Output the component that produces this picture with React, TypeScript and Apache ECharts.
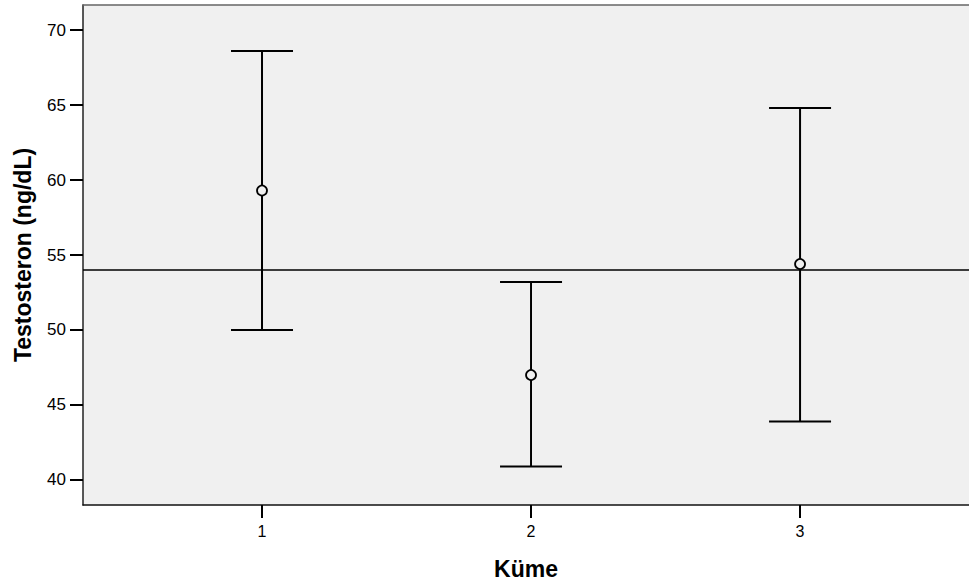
import React, { useEffect, useRef } from "react";
import * as echarts from "echarts";

const categories = [1, 2, 3];
const means = [59.3, 47.0, 54.4];
const lowerBounds = [50.0, 40.9, 43.9];
const upperBounds = [68.6, 53.2, 64.8];
const referenceValue = 54.0;
const yTicks = [40, 45, 50, 55, 60, 65, 70];
const xTicks = [1, 2, 3];

export default function App() {
  const ref = useRef<HTMLDivElement>(null);
  useEffect(() => {
    document.body.style.margin = "0";
    document.documentElement.style.overflow = "hidden";
    if (!ref.current) return;
    const chart = echarts.init(ref.current, null, { renderer: "svg" });
    const data = categories.map((c, i) => [c, lowerBounds[i], upperBounds[i], means[i]]);
    const font = "'Liberation Sans', Arial, sans-serif";
    chart.setOption({
      animation: false,
      backgroundColor: "#ffffff",
      grid: {
        left: 83,
        top: 5,
        right: 0,
        bottom: 77,
        containLabel: false,
        outerBoundsMode: "none",
        show: true,
        backgroundColor: "#f0f0f0",
        borderWidth: 0,
      },
      xAxis: [
        {
          type: "value",
          min: 0.3346,
          max: 3.628,
          name: "Küme",
          nameLocation: "middle",
          nameGap: 52,
          nameTextStyle: { fontFamily: font, fontSize: 23, fontWeight: "bold", color: "#000" },
          splitLine: { show: false },
          axisLine: { show: true, onZero: false, lineStyle: { color: "#111", width: 1.5 } },
          axisTick: { show: true, length: 13, customValues: xTicks, lineStyle: { color: "#000", width: 2 } },
          axisLabel: {
            customValues: xTicks,
            fontFamily: font,
            fontSize: 16,
            color: "#000",
            margin: 18,
          },
        },
        {
          type: "value",
          position: "top",
          min: 0.3346,
          max: 3.628,
          splitLine: { show: false },
          axisLine: { show: true, onZero: false, lineStyle: { color: "#666", width: 1.5 } },
          axisTick: { show: false },
          axisLabel: { show: false },
        },
      ],
      yAxis: {
        type: "value",
        min: 38.3333,
        max: 71.6667,
        name: "Testosteron (ng/dL)",
        nameLocation: "middle",
        nameGap: 49,
        nameTextStyle: { fontFamily: font, fontSize: 23, fontWeight: "bold", color: "#000" },
        splitLine: { show: false },
        axisLine: { show: true, onZero: false, lineStyle: { color: "#222", width: 1.5 } },
        axisTick: { show: true, length: 13, customValues: yTicks, lineStyle: { color: "#000", width: 2 } },
        axisLabel: {
          customValues: yTicks,
          fontFamily: font,
          fontSize: 17,
          color: "#000",
          margin: 17,
        },
      },
      series: [
        {
          type: "custom",
          xAxisIndex: 0,
          data,
          renderItem: (params: any, api: any) => {
            const x = api.value(0);
            const lo = api.coord([x, api.value(1)]);
            const hi = api.coord([x, api.value(2)]);
            const mid = api.coord([x, api.value(3)]);
            const half = 31;
            const style = { stroke: "#000", lineWidth: 2 };
            return {
              type: "group",
              children: [
                { type: "line", shape: { x1: lo[0], y1: lo[1], x2: hi[0], y2: hi[1] }, style },
                { type: "line", shape: { x1: hi[0] - half, y1: hi[1], x2: hi[0] + half, y2: hi[1] }, style },
                { type: "line", shape: { x1: lo[0] - half, y1: lo[1], x2: lo[0] + half, y2: lo[1] }, style },
                {
                  type: "circle",
                  z2: 10,
                  shape: { cx: mid[0], cy: mid[1], r: 5 },
                  style: { fill: "#f0f0f0", stroke: "#000", lineWidth: 1.8 },
                },
              ],
            };
          },
          markLine: {
            silent: true,
            symbol: "none",
            label: { show: false },
            lineStyle: { color: "#000", width: 1.5, type: "solid" },
            data: [{ yAxis: referenceValue }],
          },
          z: 5,
        },
      ],
    });
    return () => chart.dispose();
  }, []);
  return (
    <div
      ref={ref}
      style={{ position: "absolute", left: 0, top: 0, width: 969, height: 582 }}
    />
  );
}
